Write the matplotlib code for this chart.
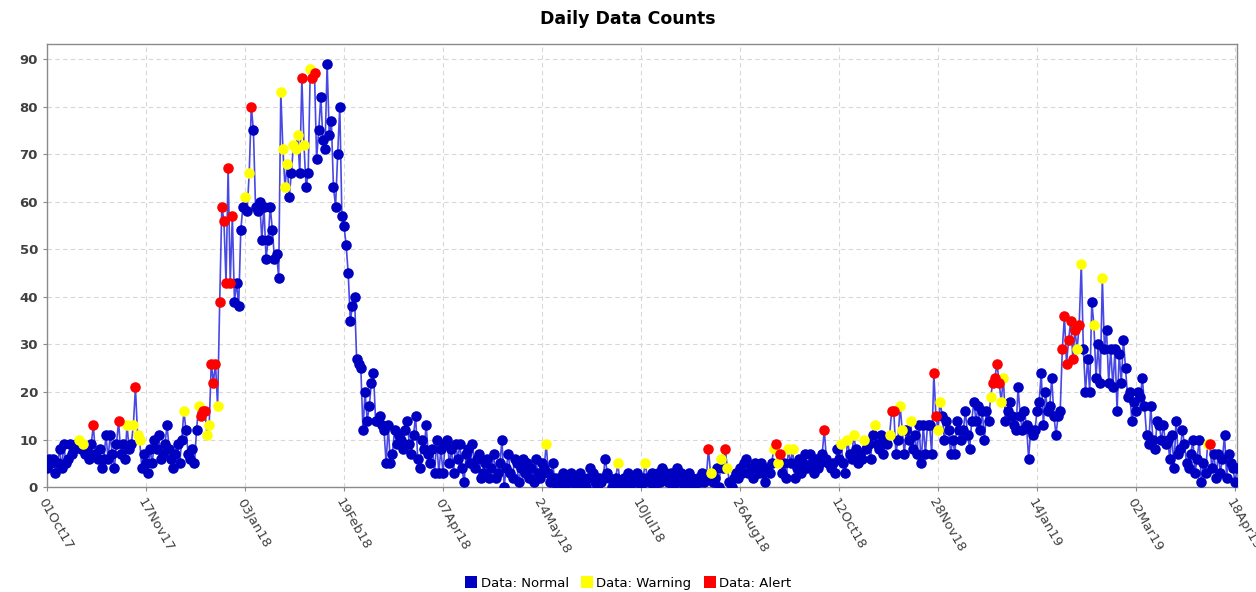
#!/usr/bin/env python
# coding: utf-8

import numpy as np
import pandas as pd
import matplotlib
matplotlib.use("Agg")
import matplotlib.pyplot as plt
import matplotlib.dates as mdates
from matplotlib.lines import Line2D

# Daily counts, one value per day starting at 01 Oct 2017
start_date = "2017-10-01"
counts = [
    4, 6, 5, 6, 3, 5, 8, 4, 9, 5,
    6, 9, 7, 8, 9, 10, 8, 9, 7, 8,
    6, 9, 13, 7, 6, 8, 4, 6, 11, 6,
    11, 7, 4, 9, 14, 7, 9, 6, 13, 8,
    9, 13, 21, 11, 10, 4, 7,
    5, 3, 8, 5, 10, 8, 11, 6, 7, 9,
    13, 8, 6, 4, 7, 9, 5, 10, 16, 12,
    7, 6, 8, 5, 12, 17,
    15, 16, 16, 11, 13, 26, 22, 26, 17, 39,
    59, 56, 43, 67, 43, 57, 39, 43, 38, 54,
    59, 61, 58, 66, 80, 75, 59, 58, 60, 52,
    59, 48, 52, 59, 54, 48, 49, 44, 83, 71,
    63, 68, 61, 66, 72, 71, 74, 66, 86, 72,
    63, 66, 88, 86, 87, 69, 75, 82, 73, 71,
    89, 74, 77, 63, 59, 70, 80, 57, 55, 51,
    45, 35, 38, 40, 27, 26, 25, 12, 20, 14,
    17, 22, 24, 14, 14, 15, 13, 12, 5, 13,
    5, 7, 12, 9, 11, 10, 8, 12, 14, 9,
    7, 11, 15, 6, 4, 10, 8, 13, 7, 5,
    8, 3, 10, 3, 8, 3, 9, 10, 5, 8,
    3, 9, 6, 9, 4, 1, 7, 8, 5, 9,
    4, 6, 7, 2, 3, 5, 6, 2, 4, 7,
    2, 3, 5, 10, 0, 4, 7, 3, 2, 6,
    5, 1, 4, 6, 3, 5, 2, 4, 1, 6,
    3, 2, 5, 4, 9, 3, 1, 5, 2, 0,
    2, 1, 3, 0, 2, 1, 3, 2, 0, 1,
    3, 2, 1, 0, 2, 4, 3, 1, 0, 2,
    1, 2, 6, 3, 2, 0, 1, 2, 5, 1,
    0, 2, 1, 3, 0, 1, 2, 3, 1, 0, 2, 5,
    2, 1, 3, 0, 2, 3, 1, 4, 2, 3,
    1, 3, 0, 2, 4, 1, 3, 2, 0, 1,
    3, 2, 0, 1, 2, 1, 3, 1, 2, 8,
    3, 1, 2, 4, 0, 6, 4, 8, 4, 1,
    0, 2, 3, 2, 4, 3, 5, 6, 3, 4,
    2, 5, 4, 3, 5, 3, 1, 4, 3, 5,
    8, 9, 5, 7, 3, 5, 2, 8, 5, 8,
    2, 4, 6, 3, 5, 7, 4, 7, 5, 3,
    6, 4, 5, 7, 12, 6, 5, 4, 5, 3,
    8, 6, 9, 5, 3, 10, 7, 6, 11, 8,
    5, 7, 6, 10, 8, 9, 6, 11, 13, 9,
    8, 11, 7, 10, 9, 11, 16, 16, 7, 10,
    17, 12, 7, 12, 10, 14, 8, 11, 7, 13,
    5, 13, 7, 13, 13, 7, 24, 15, 12, 18,
    15, 10, 14, 12, 7, 10, 7, 14, 12, 10,
    12, 16, 11, 8, 14, 18, 14, 17, 12, 16,
    10, 16, 14, 19, 22, 23, 26, 22, 18, 23,
    14, 16, 18, 15, 13, 12, 21, 15, 12, 16,
    13, 6, 12, 11, 12, 16, 18, 24, 13, 20,
    16, 17, 23, 15, 11, 15, 16, 29, 36, 26,
    31, 35, 27, 33, 29, 34, 47, 29, 20, 27,
    20, 39, 34, 23, 30, 22, 44, 29, 33, 22,
    29, 21, 29, 16, 28, 22,
    31, 25, 19, 20, 14, 18, 16, 20, 19, 23,
    17, 11, 9, 17, 10, 8, 14, 13, 10, 13,
    9, 10, 6, 11, 4, 14, 7, 8, 12, 9,
    5, 4, 7, 10, 3, 6, 10, 1, 5, 3,
    9, 9, 4, 7, 2, 7, 3, 6, 11, 2,
    7, 5, 4, 1, 4,
]

# Day indices flagged as warning / alert
warning_days = [15, 17, 38, 41, 43, 44, 65, 72, 76, 77, 81, 94, 96,
                111, 112, 113, 114, 117, 118, 119, 122, 125, 237, 271,
                284, 315, 320, 323, 345, 347, 352, 354, 377, 380, 383,
                388, 393, 400, 405, 406, 410, 423, 424, 448, 453, 454,
                489, 491, 497, 501, 551]
alert_days = [22, 34, 42, 73, 74, 75, 78, 79, 80, 82, 83, 84, 85, 86,
              87, 88, 97, 121, 126, 127, 314, 322, 346, 348, 369, 401,
              402, 421, 422, 449, 450, 451, 452, 482, 483, 484, 485,
              486, 487, 488, 490, 552]

legend_labels = ["Data: Normal", "Data: Warning", "Data: Alert"]
colors = ["#0000c0", "#ffff00", "#ff0000"]


def main():
    dates = pd.date_range(start_date, periods=len(counts), freq="D")
    values = np.array(counts)

    status = np.zeros(len(values), dtype=int)
    status[warning_days] = 1
    status[alert_days] = 2

    fig = plt.figure(figsize=(12.56, 5.92), dpi=100)
    ax = fig.add_axes([0.0374, 0.177, 0.9476, 0.749])

    # connecting line first, markers on top
    ax.plot(dates, values, color="#2828e0", lw=1.2, alpha=0.85, zorder=2)
    for k in range(3):
        mask = status == k
        ax.plot(dates[mask], values[mask], linestyle="none", marker="o",
                markersize=7.6, color=colors[k], markeredgewidth=0,
                zorder=3 + k)

    ax.set_xlim(dates[0], dates[-1])
    ax.set_ylim(0, 93.2)
    ax.set_yticks(np.arange(0, 91, 10))

    ticks = pd.date_range(start_date, periods=13, freq="47D")
    ax.set_xticks(ticks)
    ax.xaxis.set_major_formatter(mdates.DateFormatter("%d%b%y"))
    plt.setp(ax.get_xticklabels(), rotation=-60, ha="left", va="top",
             rotation_mode="anchor")

    ax.grid(True, color="#d8d8d8", linestyle=(0, (4, 3)), lw=0.8)
    ax.set_axisbelow(True)
    for sp in ax.spines.values():
        sp.set_color("#8a8a8a")
        sp.set_linewidth(1.0)
    ax.tick_params(colors="#8a8a8a", labelcolor="#404040", labelsize=9.5,
                   length=3)
    for lbl in ax.get_yticklabels():
        lbl.set_fontweight("bold")

    fig.suptitle("Daily Data Counts", fontsize=12.5, fontweight="bold",
                 y=0.983)

    handles = [Line2D([], [], linestyle="none", marker="s", markersize=8,
                      color=c, markeredgewidth=0) for c in colors]
    fig.legend(handles, legend_labels, loc="center",
               bbox_to_anchor=(0.5, 0.015), ncol=3, frameon=False,
               fontsize=9.5, handletextpad=0.2, columnspacing=0.9,
               handlelength=1.0)

    fig.savefig("out.png", dpi=100)


if __name__ == "__main__":
    main()
